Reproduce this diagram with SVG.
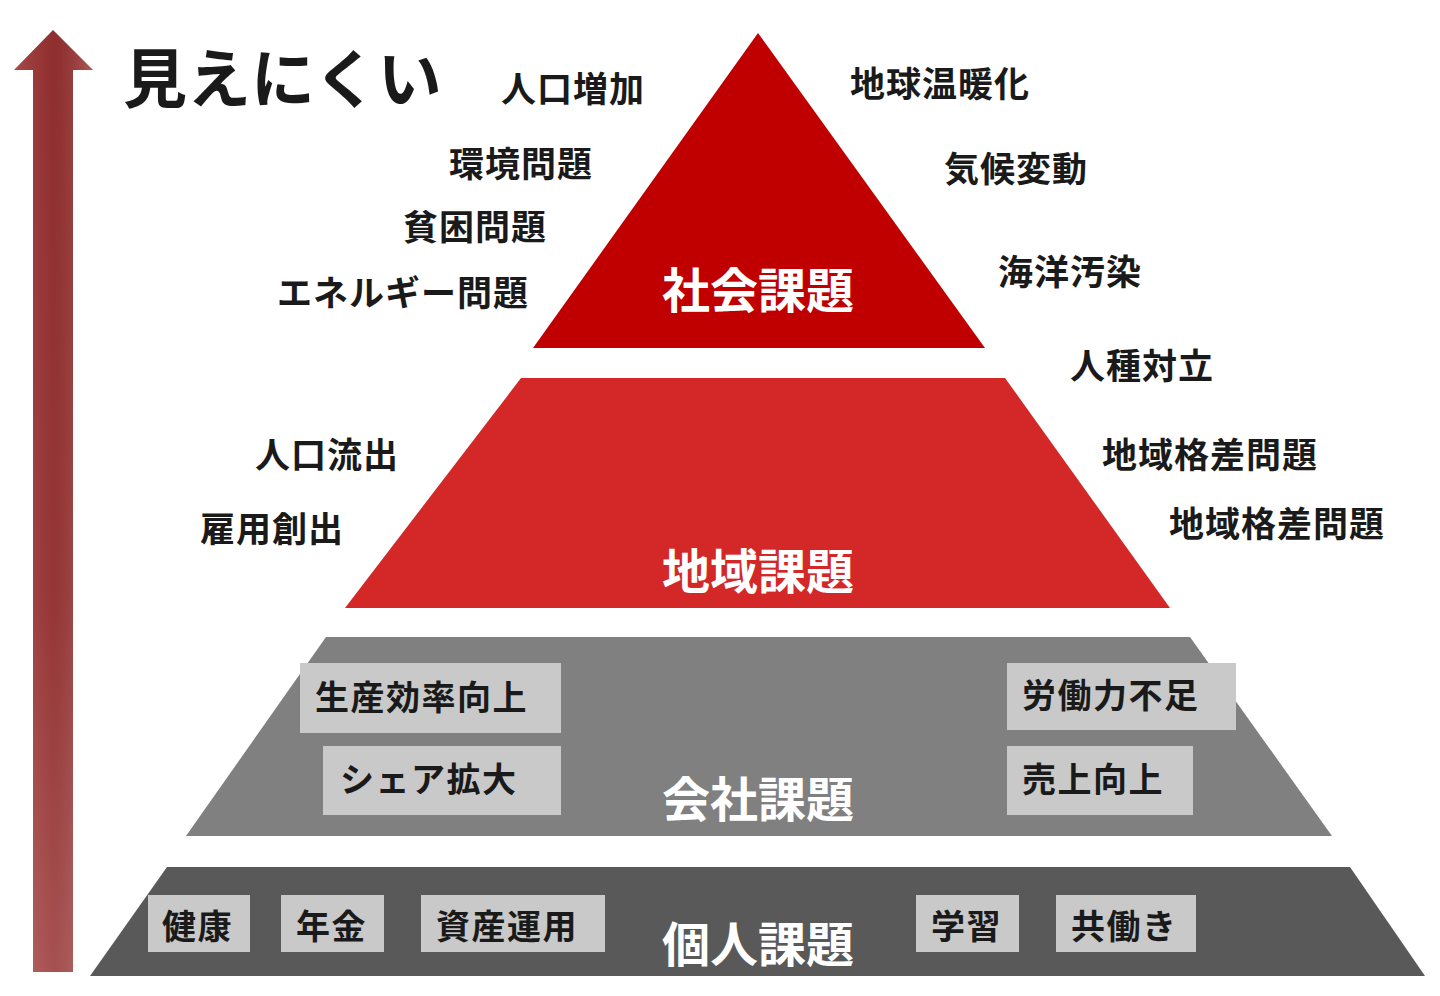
<svg xmlns="http://www.w3.org/2000/svg" width="1440" height="996" viewBox="0 0 1440 996">
<defs>
<linearGradient id="arrowV" x1="0" y1="0" x2="0" y2="1">
<stop offset="0" stop-color="#9c3232"/>
<stop offset="0.6" stop-color="#a23a3a"/>
<stop offset="1" stop-color="#b45858"/>
</linearGradient>
<linearGradient id="arrowH" x1="0" y1="0" x2="1" y2="0">
<stop offset="0" stop-color="#ffffff" stop-opacity="0.12"/>
<stop offset="0.5" stop-color="#000000" stop-opacity="0.08"/>
<stop offset="1" stop-color="#ffffff" stop-opacity="0.2"/>
</linearGradient>
</defs>
<style>
text{font-family:"Noto Sans CJK JP","Noto Sans",sans-serif;font-weight:bold;dominant-baseline:central}
.lbl{font-size:35px;letter-spacing:1px;fill:#1a1a1a}
.ttl{font-size:48px;fill:#ffffff;text-anchor:middle}
.box{fill:#c9c9c9}
.bt{font-size:34px;letter-spacing:1.5px;fill:#1a1a1a}
</style>
<rect width="1440" height="996" fill="#ffffff"/>
<g id="arrow">
<path d="M53,30 L93,70 L73,70 L73,972 L33,972 L33,70 L14,70 Z" fill="url(#arrowV)"/>
<path d="M53,30 L93,70 L73,70 L73,972 L33,972 L33,70 L14,70 Z" fill="url(#arrowH)"/>
</g>
<g id="title"><text x="123" y="74" style="font-size:64px;fill:#1a1a1a">見えにくい</text></g>

<g id="level1">
<polygon points="758,33 985,348 533,348" fill="#c00000"/>
<text class="ttl" x="758" y="287">社会課題</text>
</g>
<g id="level2">
<polygon points="521,378 1005,378 1170,608 345,608" fill="#d32728"/>
<text class="ttl" x="758" y="568">地域課題</text>
</g>
<g id="level3">
<polygon points="326,637 1190,637 1332,836 186,836" fill="#808080"/>
<g id="b-seisan"><rect class="box" x="300" y="663" width="261" height="70"/><text class="bt" x="315" y="695">生産効率向上</text></g>
<g id="b-share"><rect class="box" x="323" y="746" width="238" height="69"/><text class="bt" x="340" y="777">シェア拡大</text></g>
<g id="b-roudou"><rect class="box" x="1007" y="663" width="229" height="67"/><text class="bt" x="1022" y="693">労働力不足</text></g>
<g id="b-uriage"><rect class="box" x="1007" y="746" width="186" height="69"/><text class="bt" x="1022" y="777">売上向上</text></g>
<text class="ttl" x="758" y="796">会社課題</text>
</g>
<g id="level4">
<polygon points="167,867 1350,867 1425,976 90,976" fill="#595959"/>
<g id="b-kenkou"><rect class="box" x="148" y="895" width="102" height="57"/><text class="bt" x="162" y="924">健康</text></g>
<g id="b-nenkin"><rect class="box" x="281" y="895" width="103" height="57"/><text class="bt" x="296" y="924">年金</text></g>
<g id="b-shisan"><rect class="box" x="421" y="895" width="184" height="57"/><text class="bt" x="436" y="924">資産運用</text></g>
<g id="b-gakushu"><rect class="box" x="916" y="895" width="103" height="57"/><text class="bt" x="931" y="924">学習</text></g>
<g id="b-tomo"><rect class="box" x="1056" y="895" width="140" height="57"/><text class="bt" x="1071" y="924">共働き</text></g>
<text class="ttl" x="758" y="941">個人課題</text>
</g>

<g id="labels">
<text class="lbl" x="501" y="86">人口増加</text>
<text class="lbl" x="850" y="81">地球温暖化</text>
<text class="lbl" x="449" y="161">環境問題</text>
<text class="lbl" x="944" y="166">気候変動</text>
<text class="lbl" x="403" y="224">貧困問題</text>
<text class="lbl" x="277" y="290">エネルギー問題</text>
<text class="lbl" x="998" y="269">海洋汚染</text>
<text class="lbl" x="1070" y="363">人種対立</text>
<text class="lbl" x="255" y="452">人口流出</text>
<text class="lbl" x="1102" y="452">地域格差問題</text>
<text class="lbl" x="200" y="526">雇用創出</text>
<text class="lbl" x="1169" y="521">地域格差問題</text>
</g>
</svg>
